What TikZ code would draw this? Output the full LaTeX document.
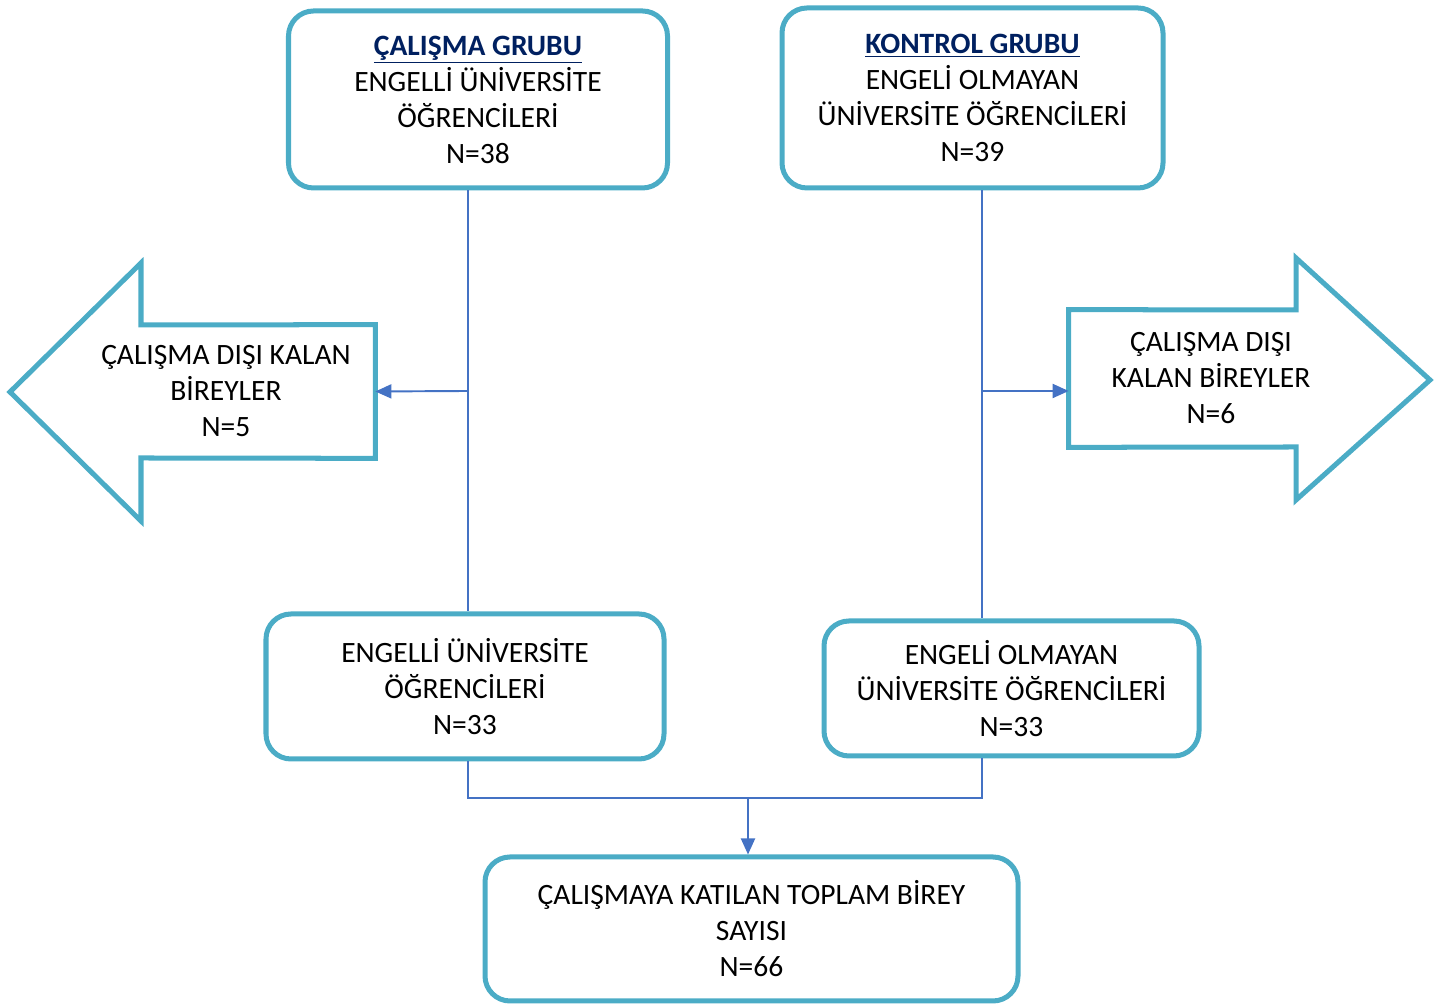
\documentclass[tikz,border=0pt]{standalone}
\usepackage{fontspec}
\setmainfont{Carlito}
\usepackage{tikz}
\usetikzlibrary{arrows.meta, positioning, calc}
\definecolor{myaqua}{RGB}{75,172,198}
\definecolor{myblue}{RGB}{68,114,196}
\definecolor{mynavy}{RGB}{0,32,96}
\tikzset{
  block/.style={rectangle, draw=myaqua, line width=2.85pt,
    align=center, rounded corners=0.5cm, inner sep=2pt,
    font=\fontsize{16.8}{20.5}\selectfont},
  exitnode/.style={rectangle, inner sep=0pt, align=center,
    font=\fontsize{16.8}{20.5}\selectfont},
  exitshape/.style={draw=myaqua, line width=2.85pt, line join=miter},
  arrow/.style={-{Triangle[length=0.32cm,width=0.28cm]}, line width=1.1pt, color=myblue},
  line/.style={line width=1.1pt, color=myblue}
}
\newcommand{\grouphead}[1]{\textcolor{mynavy}{\bfseries\underline{#1}}}
\begin{document}
\begin{tikzpicture}
  \useasboundingbox (0,0) rectangle (28.86,20.16);
  % group boxes
  \node[block, minimum width=7.58cm, minimum height=3.54cm] (study) at (9.56,18.17)
    {\grouphead{ÇALIŞMA GRUBU}\\ENGELLİ ÜNİVERSİTE\\ÖĞRENCİLERİ\\N=38};
  \node[block, minimum width=7.62cm, minimum height=3.6cm] (control) at (19.45,18.2)
    {\grouphead{KONTROL GRUBU}\\ENGELİ OLMAYAN\\ÜNİVERSİTE ÖĞRENCİLERİ\\N=39};
  \node[block, minimum width=7.96cm, minimum height=2.9cm] (studyfin) at (9.3,6.43)
    {ENGELLİ ÜNİVERSİTE\\ÖĞRENCİLERİ\\N=33};
  \node[block, minimum width=7.5cm, minimum height=2.7cm] (controlfin) at (20.23,6.39)
    {ENGELİ OLMAYAN\\ÜNİVERSİTE ÖĞRENCİLERİ\\N=33};
  \node[block, minimum width=10.66cm, minimum height=2.88cm] (total) at (15.03,1.58)
    {ÇALIŞMAYA KATILAN TOPLAM BİREY\\SAYISI\\N=66};

  % excluded (arrow shapes)
  \node[exitnode, minimum width=5.96cm, minimum height=2.66cm] (outL) at (4.52,12.33)
    {ÇALIŞMA DIŞI KALAN\\BİREYLER\\N=5};
  \draw[exitshape] (outL.north east) -- (2.82,13.66) -- (2.82,14.9) -- (0.2,12.32)
    -- (2.82,9.74) -- (2.82,11.0) -- (outL.south east) -- cycle;
  \node[exitnode, minimum width=5.68cm, minimum height=2.74cm] (outR) at (24.22,12.59)
    {ÇALIŞMA DIŞI\\KALAN BİREYLER\\N=6};
  \draw[exitshape] (outR.north west) -- (25.92,13.96) -- (25.92,15.0) -- (28.6,12.56)
    -- (25.92,10.16) -- (25.92,11.22) -- (outR.south west) -- cycle;

  % connectors
  \coordinate (jL) at (9.36,12.34);
  \coordinate (jR) at (19.64,12.34);
  \coordinate (jB) at (14.96,4.2);
  \draw[line] (jL |- study.south) -- (jL |- studyfin.north);
  \draw[arrow] (jL) -- (outL.east);
  \draw[line] (jR |- control.south) -- (jR |- controlfin.north);
  \draw[arrow] (jR) -- (jR -| outR.west);
  \draw[line] (jL |- studyfin.south) |- (jB) -| (jR |- controlfin.south);
  \draw[arrow] (jB) -- (jB |- total.north);
\end{tikzpicture}
\end{document}
